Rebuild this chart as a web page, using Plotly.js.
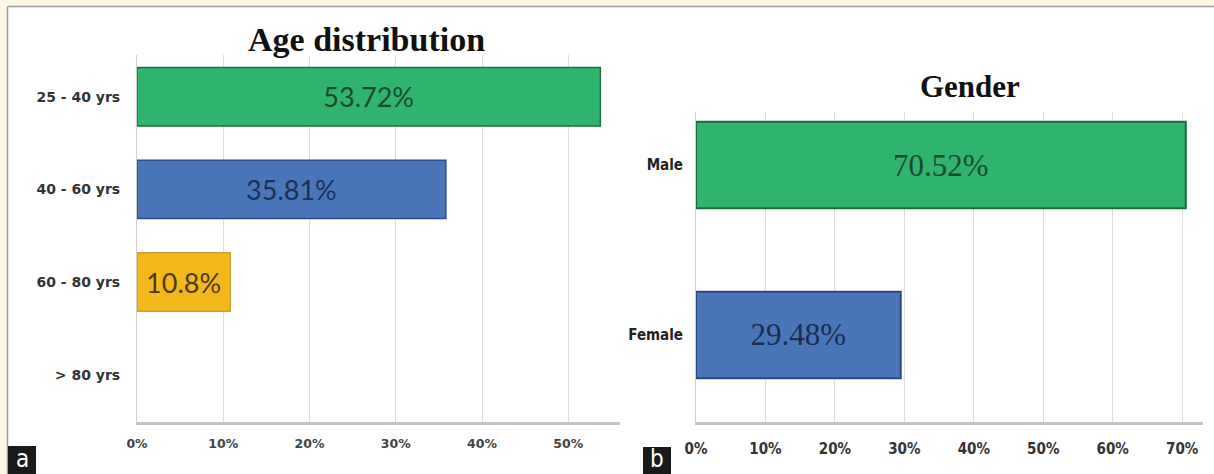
<!DOCTYPE html>
<html>
<head>
<meta charset="utf-8">
<script src="https://cdn.plot.ly/plotly-3.0.1.min.js"></script>
<style>html,body{margin:0;padding:0;background:#fff;}#chart{width:1214px;height:474px;}</style>
</head>
<body>
<div id="chart"></div>
<script>
// ---- data ----
const ageGroups = ['> 80 yrs', '60 - 80 yrs', '40 - 60 yrs', '25 - 40 yrs'];
const agePct = [0, 10.8, 35.81, 53.72];
const ageLabels = ['', '10.8%', '35.81%', '53.72%'];
const ageTicks = [0, 10, 20, 30, 40, 50];
const ageTickText = ['0%', '10%', '20%', '30%', '40%', '50%'];

const genders = ['Female', 'Male'];
const genderPct = [29.48, 70.52];
const genderLabels = ['29.48%', '70.52%'];
const genderTicks = [0, 10, 20, 30, 40, 50, 60, 70];
const genderTickText = ['0%', '10%', '20%', '30%', '40%', '50%', '60%', '70%'];

// ---- styles ----
const ageFill = ['#ffffff', '#f5b81a', '#4a76b9', '#2fb46e'];
const ageEdge = ['#ffffff', '#caa030', '#2d4c86', '#1f6d40'];
const ageText = ['#000', '#4a3a12', '#1e2f57', '#174a2c'];
const genFill = ['#4a76b9', '#2fb46e'];
const genEdge = ['#2a4a84', '#1d6a3d'];
const genText = ['#1c2c50', '#1a4a2c'];

const W = 1214, H = 474;
const px = v => v / W;
const py = v => 1 - v / H;
const condensed = '"DejaVu Sans Condensed", "DejaVu Sans", sans-serif';

const traces = [
  {
    type: 'bar', orientation: 'h', xaxis: 'x', yaxis: 'y',
    y: ageGroups, x: agePct, text: ageLabels,
    textposition: 'inside', insidetextanchor: 'middle', textangle: 0,
    textfont: {family: 'Lato, "Open Sans", sans-serif', size: 27, color: ageText},
    marker: {color: ageFill, line: {color: ageEdge, width: 1.5}},
    width: 0.63, hoverinfo: 'skip', cliponaxis: false
  },
  {
    type: 'bar', orientation: 'h', xaxis: 'x2', yaxis: 'y2',
    y: genders, x: genderPct, text: genderLabels,
    textposition: 'inside', insidetextanchor: 'middle', textangle: 0,
    textfont: {family: '"Liberation Serif", "Times New Roman", serif', size: 31, color: genText},
    marker: {color: genFill, line: {color: genEdge, width: 2}},
    width: 0.51, hoverinfo: 'skip', cliponaxis: false
  }
];

const layout = {
  width: W, height: H,
  margin: {l: 0, r: 0, t: 0, b: 0},
  paper_bgcolor: '#ffffff', plot_bgcolor: '#ffffff',
  showlegend: false,
  xaxis: {
    domain: [px(137), px(620)], range: [0, 56],
    tickmode: 'array', tickvals: ageTicks, ticktext: ageTickText, showgrid: true,
    gridcolor: '#dcdcdc', gridwidth: 1, zeroline: false,
    showline: true, linecolor: '#c4c4c4', linewidth: 3,
    ticks: '', ticklabelstandoff: 8,
    tickfont: {family: '"DejaVu Sans", sans-serif', size: 12.5, color: '#444', weight: 'bold'},
    fixedrange: true
  },
  yaxis: {
    domain: [py(422), py(55)], type: 'category',
    categoryarray: ageGroups, range: [-0.51, 3.45],
    showgrid: false, zeroline: false,
    showline: true, linecolor: '#cfcfcf', linewidth: 1,
    ticks: '', ticklabelstandoff: 13,
    tickfont: {family: '"DejaVu Sans", sans-serif', size: 14, color: '#333', weight: 'bold'},
    fixedrange: true
  },
  xaxis2: {
    domain: [px(696), px(1203)], range: [0, 73], anchor: 'y2',
    tickmode: 'array', tickvals: genderTicks, ticktext: genderTickText, showgrid: true,
    gridcolor: '#dcdcdc', gridwidth: 1, zeroline: false,
    showline: true, linecolor: '#c4c4c4', linewidth: 3,
    ticks: '', ticklabelstandoff: 11,
    tickfont: {family: condensed, size: 15, color: '#333', weight: 'bold'},
    fixedrange: true
  },
  yaxis2: {
    domain: [py(422), py(112)], type: 'category', anchor: 'x2',
    categoryarray: genders, range: [-0.512, 1.312],
    showgrid: false, zeroline: false,
    showline: true, linecolor: '#cfcfcf', linewidth: 1,
    ticks: '', ticklabelstandoff: 9,
    tickfont: {family: condensed, size: 15, color: '#222', weight: 'bold'},
    fixedrange: true
  },
  shapes: [
    {type: 'rect', xref: 'paper', yref: 'paper', x0: 0, x1: px(7), y0: 0, y1: 1, fillcolor: '#fdf7e3', line: {width: 0}},
    {type: 'rect', xref: 'paper', yref: 'paper', x0: 0, x1: 1, y0: py(6), y1: 1, fillcolor: '#fdf7e3', line: {width: 0}},
    {type: 'line', xref: 'paper', yref: 'paper', x0: px(7.5), x1: px(7.5), y0: 0, y1: py(6.5), line: {color: '#9d9d9d', width: 1.5}},
    {type: 'line', xref: 'paper', yref: 'paper', x0: px(7.5), x1: 1, y0: py(6.5), y1: py(6.5), line: {color: '#9d9d9d', width: 1.5}},
    {type: 'rect', xref: 'paper', yref: 'paper', x0: px(8), x1: px(36), y0: 0, y1: py(446), fillcolor: '#1a1a1a', line: {width: 0}},
    {type: 'rect', xref: 'paper', yref: 'paper', x0: px(643), x1: px(671), y0: 0, y1: py(447), fillcolor: '#1a1a1a', line: {width: 0}}
  ],
  annotations: [
    {text: '<b>Age distribution</b>', xref: 'paper', yref: 'paper', x: px(366), y: py(40),
     xanchor: 'center', yanchor: 'middle', showarrow: false,
     font: {family: '"Liberation Serif", "Times New Roman", serif', size: 34, color: '#111'}},
    {text: '<b>Gender</b>', xref: 'paper', yref: 'paper', x: px(970), y: py(87),
     xanchor: 'center', yanchor: 'middle', showarrow: false,
     font: {family: '"Liberation Serif", "Times New Roman", serif', size: 31, color: '#111'}},
    {text: 'a', xref: 'paper', yref: 'paper', x: px(22), y: py(459), xanchor: 'center', yanchor: 'middle',
     showarrow: false, font: {family: condensed, size: 24, color: '#ffffff'}},
    {text: 'b', xref: 'paper', yref: 'paper', x: px(657), y: py(459), xanchor: 'center', yanchor: 'middle',
     showarrow: false, font: {family: condensed, size: 24, color: '#ffffff'}}
  ]
};

Plotly.newPlot('chart', traces, layout, {displayModeBar: false, staticPlot: true});
</script>
</body>
</html>
